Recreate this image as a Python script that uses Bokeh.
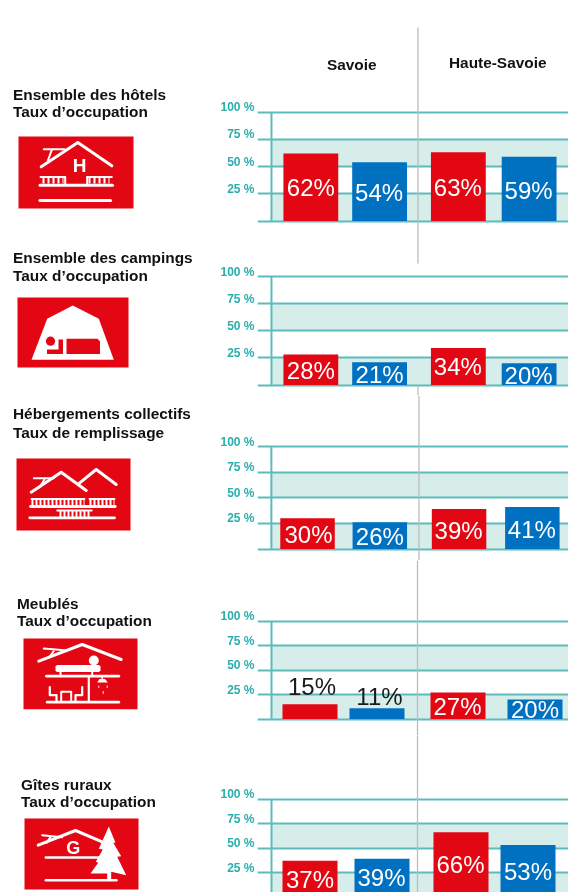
from bokeh.plotting import figure
from bokeh.layouts import column, row
from bokeh.models import FixedTicker, Range1d, LinearAxis, Grid
from bokeh.core.properties import value
from bokeh.embed import file_html
from bokeh.resources import INLINE

# ---------- data ----------
TITLES = [
    ("Ensemble des hôtels", "Taux d’occupation"),
    ("Ensemble des campings", "Taux d’occupation"),
    ("Hébergements collectifs", "Taux de remplissage"),
    ("Meublés", "Taux d’occupation"),
    ("Gîtes ruraux", "Taux d’occupation"),
]
GROUPS = ["Savoie", "Haute-Savoie"]
TICKS = [0, 25, 50, 75, 100]
BANDS = [(0, 25), (50, 75)]
TICK_LABELS = {0: "", 25: "25 %", 50: "50 %", 75: "75 %", 100: "100 %"}
SAVOIE_RED = [62, 28, 30, 15, 37]
SAVOIE_BLUE = [54, 21, 26, 11, 39]
HAUTE_RED = [63, 34, 39, 27, 66]
HAUTE_BLUE = [59, 20, 41, 20, 53]

# ---------- layout (page pixels) ----------
W, H = 568, 892
LEFT_W = 196
RED, BLUE = "#E30613", "#0070C0"
TEAL_TXT, TEAL_LINE, BAND = "#2BAEAE", "#5DBBBB", "#D6EDEA"
GREY = "#BDBDBD"
BAR_W = 55
TICK_LEN = 14
LABEL_RAISE = 5
SANS = "Liberation Sans"
ROWS = [(0, 264), (264, 395), (395, 560), (560, 735), (735, 892)]
TOPS = [111.5, 276, 446, 620.5, 798.5]
BASES = [220.5, 384.5, 548.5, 718.5, 896.5]
AXIS_X = [271, 271, 269, 272, 272]
BAR_X = [[283, 352, 431, 502], [283, 352, 431, 502], [278, 351, 431, 505],
         [283, 350, 431, 508], [283, 355, 434, 501]]
LABEL_X = [[310.5, 379, 458, 529], [310.5, 379.5, 458, 529], [306.5, 378.5, 458, 532],
           [312.5, 380, 458, 535.5], [310.5, 382, 461, 528.5]]
LABEL_Y = [[187, 192, 187, 190], [370, 374, 366, 375], [534, 536, 530, 528.5],
           [686, 696, 706, 709], [878.5, 877, 864, 871]]
DARK_LABEL = {(3, 0), (3, 1)}
TITLE_X = [12.5, 12.5, 12.5, 16.5, 20.5]
TITLE_Y = [(94, 111), (257, 275), (413, 431.5), (603, 620), (784, 801)]
GREY_SPANS = [(27, 263), (385, 395), (395, 560), (560, 735), (735, 892)]

# ---------- left column: titles and pictograms ----------
left = figure(width=LEFT_W, height=H, x_range=Range1d(0, LEFT_W), y_range=Range1d(H, 0),
              x_axis_location=None, y_axis_location=None, toolbar_location=None,
              output_backend="svg", min_border=0, outline_line_color=None)
left.grid.visible = False


def poly(xs, ys, w=3, c="white"):
    left.line(xs, ys, line_color=c, line_width=w, line_cap="round", line_join="round")


def box(x0, x1, y0, y1):
    left.quad(left=x0, right=x1, top=y0, bottom=y1, fill_color=RED, line_color=None)


def fill(xs, ys, c="white"):
    left.patch(xs, ys, fill_color=c, line_color=None)


def balusters(x0, x1, y, h=5, dash="2 3"):
    left.line([x0, x1], [y, y], line_color="white", line_width=h, line_dash=dash)


def letter(t, x, y, size="18px"):
    left.text([x], [y], text=[t], text_color="white", text_font=value(SANS),
              text_font_size=size, text_font_style="bold", text_align="center", text_baseline="middle")


# hotel
box(18, 133, 136, 208)
poly([40.7, 77.3, 111.3], [166.3, 142, 165.3], 3)
poly([43.3, 64], [148.7, 148.7], 2)
poly([51.3, 47.3], [149.3, 160.3], 2)
letter("H", 79, 165, "19px")
poly([39.5, 112], [184.7, 184.7], 3)
poly([40, 64.7], [176.5, 176.5], 2)
poly([86.7, 111.3], [176.5, 176.5], 2)
balusters(42, 63, 180, 6)
balusters(88, 109, 180, 6)
poly([64.7, 64.7], [176.5, 184], 2)
poly([86.7, 86.7], [176.5, 184], 2)
poly([39.5, 110], [200, 200], 3.2)

# camping
box(17, 128, 297, 367)
fill([31, 46.7, 72.3, 98.3, 113.3], [359.3, 318.3, 305, 318.3, 359.3])
left.circle([50], [340.7], radius=4.6, fill_color=RED, line_color=None)
fill([46.5, 58, 58, 62.5, 62.5, 46.5], [349, 349, 339, 339, 353.5, 353.5], RED)
fill([66, 97, 99.5, 99.5, 66], [338.3, 338.3, 341, 353.5, 353.5], RED)

# group lodging
box(16, 130, 458, 530)
poly([30.7, 60.7, 85.7], [491.7, 471.7, 490])
poly([78, 95.7, 115.7], [483.3, 469, 484])
poly([33.3, 53.3], [477.7, 477.7], 2)
poly([44, 39], [479, 486.7], 2)
poly([30, 114.7], [506, 506], 2.8)
poly([31, 84], [498.5, 498.5], 1.8)
poly([89, 114], [498.5, 498.5], 1.8)
balusters(31, 84, 502, 6, "2 2")
balusters(89, 114, 502, 6, "2 2")
poly([29.3, 114], [517.3, 517.3], 2.8)
poly([56.7, 91.3], [510, 510], 1.8)
balusters(59, 90, 513.5, 6, "2 2")

# furnished
box(23, 137, 638, 708.7)
poly([38.3, 81.7, 120.7], [660.7, 644, 659])
poly([43.3, 66.7], [648, 650], 2)
poly([53.3, 48.3], [650.7, 657.3], 2)
fill([56.5, 98.5, 100, 100, 98.5, 56.5, 55, 55], [664.5, 664.5, 666, 670, 671.5, 671.5, 670, 666])
left.circle([93.3], [660], radius=5, fill_color="white", line_color=None)
poly([60, 60], [671, 675.7], 2)
poly([91.7, 91.7], [671, 675.7], 2)
poly([46, 118.3], [675.7, 675.7], 2.8)
poly([88.3, 88.3], [675.7, 701], 2.2)
poly([46.7, 118.3], [701.7, 701.7], 2.8)
poly([60.7, 60.7, 70.7, 70.7], [701, 691.3, 691.3, 701], 2)
poly([49.3, 49.3, 56, 56], [686.7, 694.7, 694.7, 700.7], 2.2)
poly([81.7, 81.7, 75, 75], [686.7, 694.7, 694.7, 700.7], 2.2)
poly([101.7, 101.7], [676, 679], 1.5)
fill([96.7, 99, 104.5, 107.3], [682, 678.5, 678.5, 682])
poly([98.3, 98.3], [685.5, 687], 0.9)
poly([102.7, 102.7], [691, 693], 0.9)
poly([106.7, 106.7], [685.5, 687], 0.9)

# rural gite
box(24, 138, 818, 889)
poly([37.7, 75, 101.7], [844.7, 830, 841.3])
poly([41.7, 61.7], [834.7, 836.7], 2)
poly([50, 46], [836.7, 842.3], 2)
letter("G", 72.7, 847.3, "18px")
poly([45.3, 100], [857, 857], 2.4)
poly([45.3, 116], [879.7, 879.7], 2.4)
fill([108.3, 115, 112.7, 120.7, 116.7, 125.7, 110.7, 110.7, 106.7, 106.7, 90, 97.7, 95.3, 102.3, 98.3, 103.3],
     [826, 842.3, 842.3, 855.7, 856.3, 874.7, 871.3, 879, 879, 873, 873, 862.3, 861.3, 849, 848.3, 837.3])

for i, (a, b) in enumerate(TITLES):
    for t, y in zip((a, b), TITLE_Y[i]):
        left.text([TITLE_X[i]], [y], text=[t], text_color="#111111", text_font=value(SANS),
                  text_font_size="15.4px", text_font_style="bold", text_baseline="middle")

# ---------- right column: one chart per accommodation type ----------
figs = []
for i in range(5):
    r0, r1 = ROWS[i]
    top, base = TOPS[i], BASES[i]
    to_val = lambda px: 100 * (base - px) / (base - top)
    to_lab = lambda px: 100 * (base - LABEL_RAISE - px) / (base - top)
    frame_x = AXIS_X[i] - TICK_LEN   # gridlines run out to the left of the axis line
    p = figure(width=W - LEFT_W, height=r1 - r0, x_range=Range1d(frame_x, W + 1),
               y_range=Range1d(to_val(r1), to_val(r0)), x_axis_location=None, y_axis_location=None,
               toolbar_location=None, output_backend="svg",
               min_border=0, min_border_left=frame_x - 1 - LEFT_W, outline_line_color=None)
    p.grid.visible = False
    p.extra_y_ranges = {"px": Range1d(r1, r0), "lab": Range1d(to_lab(r1), to_lab(r0))}
    ax = LinearAxis(y_range_name="lab", ticker=FixedTicker(ticks=TICKS), major_label_overrides=TICK_LABELS,
                    axis_line_color=None, major_tick_line_color=None, minor_tick_line_color=None,
                    major_tick_in=0, major_tick_out=0, major_label_standoff=3,
                    major_label_text_color=TEAL_TXT, major_label_text_font=SANS,
                    major_label_text_font_size="12px", major_label_text_font_style="bold")
    p.add_layout(ax, "left")
    p.add_layout(Grid(dimension=1, ticker=FixedTicker(ticks=TICKS), grid_line_color=TEAL_LINE, grid_line_width=2))

    p.quad(left=AXIS_X[i], right=W + 1, bottom=[b[0] for b in BANDS], top=[b[1] for b in BANDS],
           fill_color=BAND, line_color=None, level="image")
    p.segment([AXIS_X[i]], [TICKS[0]], [AXIS_X[i]], [TICKS[-1]], line_color=TEAL_LINE, line_width=2)

    vals = [SAVOIE_RED[i], SAVOIE_BLUE[i], HAUTE_RED[i], HAUTE_BLUE[i]]
    cols = [RED, BLUE, RED, BLUE]
    lefts = BAR_X[i]
    p.quad(left=lefts, right=[x + BAR_W for x in lefts], bottom=[0] * 4, top=vals,
           fill_color=cols, line_color=None)
    p.segment([418], [GREY_SPANS[i][0]], [418], [GREY_SPANS[i][1]], line_color=GREY,
              line_width=1.3, y_range_name="px")
    for k, v in enumerate(vals):
        p.text([LABEL_X[i][k]], [LABEL_Y[i][k]], text=[f"{v}%"],
               text_color="#1A1A1A" if (i, k) in DARK_LABEL else "white",
               text_font=value(SANS), text_font_size="24px", text_align="center",
               text_baseline="middle", y_range_name="px")
    if i == 0:
        for t, x, y in zip(GROUPS, (351.5, 498), (64, 62)):
            p.text([x], [y], text=[t], text_color="#111111", text_font=value(SANS),
                   text_font_size="15.4px", text_font_style="bold", text_align="center",
                   text_baseline="middle", y_range_name="px")
    figs.append(p)

root = row(left, column(*figs, spacing=0), spacing=0)
root.styles = {"position": "fixed", "left": "0px", "top": "0px"}
open("out.html", "w").write(file_html(root, INLINE))
